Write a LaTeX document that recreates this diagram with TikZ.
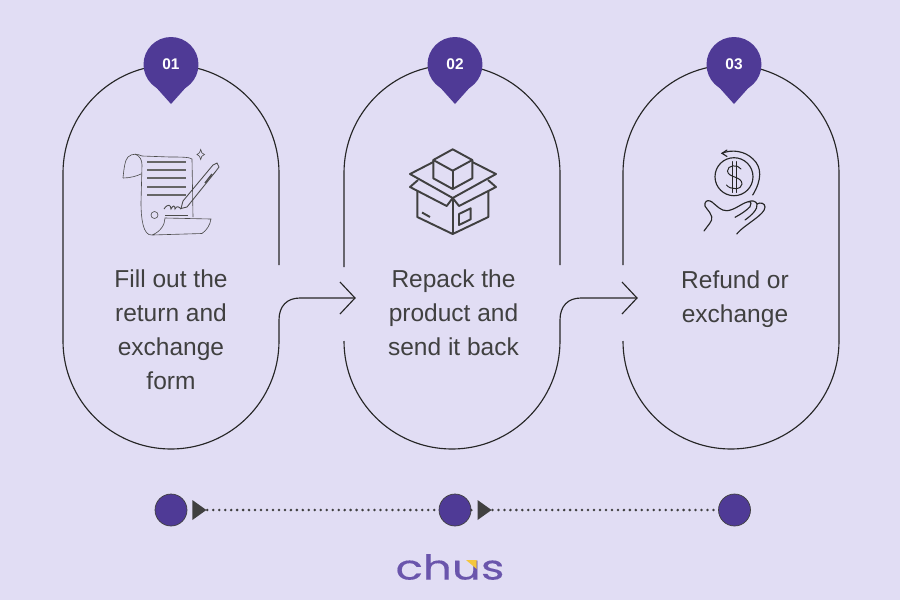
\documentclass[tikz,border=0pt]{standalone}
\usepackage{fontspec}
\usepackage{xcolor}
\setmainfont{Liberation Sans}
\newfontfamily\logofont[FakeBold=0.2]{Poppins}
\usetikzlibrary{shapes.geometric}
\definecolor{bgcol}{HTML}{E1DDF4}
\definecolor{pincol}{HTML}{4F3A96}
\definecolor{inkcol}{HTML}{404040}
\definecolor{logocol}{HTML}{6A55AC}
\definecolor{logotip}{HTML}{F4C63D}
\tikzset{
  outline/.style={draw=black!85,line width=0.65pt},
  pinhead/.style={circle,fill=pincol,minimum size=1.1cm,inner sep=0pt,text=white,font=\bfseries\fontsize{8.8}{10}\selectfont},
  steptext/.style={align=center,text=inkcol,font=\fontsize{13.95}{19.45}\selectfont},
  dotnode/.style={circle,fill=pincol,draw=inkcol,line width=0.4pt,minimum size=0.64cm,inner sep=0pt},
  tipnode/.style={isosceles triangle,isosceles triangle stretches,fill=inkcol,minimum width=0.4cm,minimum height=0.28cm,inner sep=0pt},
  dotline/.style={draw=inkcol,line width=1.6pt,line cap=round,dash pattern=on 0pt off 3.4pt},
  scroll/.style={draw=black!70,line width=0.35pt},
  boxline/.style={draw=inkcol,line width=1.1pt,line join=round},
  handline/.style={draw=black!85,line width=0.65pt,line cap=round}
}
\begin{document}
\begin{tikzpicture}[x=0.02cm,y=-0.02cm]
\useasboundingbox[fill=bgcol] (0,0) rectangle (900,600);
% the three outlines
\foreach \x/\ya/\yb in {63/341/265,344/267/265,623/265/341}
\draw[outline] (\x,\ya) -- (\x,173) .. controls (\x,113.4) and (\x+48.4,65) .. (\x+108,65)
  .. controls (\x+167.6,65) and (\x+216,113.4) .. (\x+216,173) -- (\x+216,\yb);
\foreach \x in {63,344,623}
\draw[outline] (\x,341) .. controls (\x,400.6) and (\x+48.4,449) .. (\x+108,449)
  .. controls (\x+167.6,449) and (\x+216,400.6) .. (\x+216,341);
% arrows between them
\coordinate (tipa) at (355,298);
\coordinate (tipb) at (637,298);
\draw[outline] (279,341) -- (279,320) .. controls (279,306) and (287,298) .. (300,298) -- (tipa);
\draw[outline] (560,341) -- (560,320) .. controls (560,306) and (568,298) .. (581,298) -- (tipb);
\draw[outline] ([shift={(-15,-16)}]tipa) -- (tipa) -- ([shift={(-15,16)}]tipa);
\draw[outline] ([shift={(-15,-16)}]tipb) -- (tipb) -- ([shift={(-15,16)}]tipb);
% pins
\foreach \x/\n in {171/01,455/02,734/03} {
\fill[pincol] (\x-17,85) -- (\x,104) -- (\x+17,85) -- cycle;
\node[pinhead] (pin\n) at (\x,64.5) {\n};
}
% labels
\node[steptext] (texta) at (171,329.5) {Fill out the\\return and\\exchange\\form};
\node[steptext] (textb) at (453.5,312.5) {Repack the\\product and\\send it back};
\node[steptext] (textc) at (735,299) {Refund or\\exchange};
% scroll
\draw[scroll] (123,178) .. controls (124,168) and (125,160) .. (128,157) .. controls (132,153) and (138,154) .. (142,156) -- (170,157) .. controls (180,157) and (190,157) .. (192,159) -- (193,217);
\draw[scroll] (123,178) .. controls (130,178) and (137,176) .. (141,174);
\draw[scroll] (135,154) .. controls (140,156) and (142,160) .. (142,165) -- (141,203) .. controls (141,218) and (143,236) .. (152,235) -- (202,233.5) .. controls (207,230) and (210,225) .. (211,219) -- (165,218) .. controls (165,225) and (160,232) .. (152,235);
\foreach \y in {162,170,178,187,195}
\draw[scroll,line width=0.6pt,black!60] (147,\y) -- (186,\y);
\draw[scroll] (165,215) -- (188,215);
\draw[scroll] (154.5,215) circle (3.5);
\draw[scroll,line width=0.5pt] (164,209) .. controls (168,203) and (171,205) .. (171,209) .. controls (173,205) and (175,205) .. (175,209) .. controls (177,205) and (179,207) .. (181,209);
\draw[scroll,line width=0.5pt] (181,208.5) -- (183,201) -- (213,165) -- (217,163) -- (219,167) -- (216,171) -- (187,207) -- cycle;
\draw[scroll,line width=0.8pt] (205,183) -- (212,174);
\draw[scroll] (200.7,149.5) .. controls (201,152) and (202,154) .. (204.5,154.5) .. controls (202,155) and (201,157) .. (200.7,159.5) .. controls (200.4,157) and (199,155) .. (197,154.5) .. controls (199,154) and (200.4,152) .. (200.7,149.5) -- cycle;
% box
\draw[boxline] (452.7,149.3) -- (472.3,160) -- (452.7,170.7) -- (433.3,160) -- cycle;
\draw[boxline] (433.3,160) -- (433.3,178.3) -- (452.7,189) -- (472.3,178.3) -- (472.3,160);
\draw[boxline] (452.7,170.7) -- (452.7,189);
\draw[boxline] (433.3,162) -- (410,174) -- (452.7,198) -- (496,174) -- (472.3,162);
\draw[boxline] (418,180) -- (410,187) -- (446.7,206) -- (452.7,198) -- (459,206) -- (496,187) -- (488,180);
\draw[boxline] (417.3,191) -- (417.3,217) -- (452.7,234) -- (488.3,217) -- (488.3,191);
\draw[boxline] (452.7,198) -- (452.7,234);
\draw[boxline] (422,212.5) -- (430,217);
\draw[boxline] (459,214) -- (470.7,208.3) -- (470.7,219.3) -- (459,225) -- cycle;
% coin and hand
\draw[handline] (734,176.7) circle (19);
\draw[handline] (752.7,195) .. controls (762,180) and (762,167) .. (753,159) .. controls (745,151) and (732,149) .. (722,153.3);
\draw[handline] (727,150) -- (722,153.3) -- (727,156.5);
\draw[handline,line width=0.55pt] (741,169) .. controls (738,164) and (727,165) .. (727.5,171) .. controls (728,178) and (742,176) .. (742,184) .. controls (742,190) and (730,190) .. (726.5,185);
\draw[handline,line width=0.55pt] (732,161.5) -- (732,192.5);
\draw[handline,line width=0.55pt] (736,161.5) -- (736,192.5);
\draw[handline] (704,231) .. controls (708,225) and (713,221) .. (711.7,216.7) .. controls (710,210) and (703,207) .. (705,203.3) .. controls (706,200) and (709,200) .. (712,202) .. controls (717,206) and (721,211) .. (727,210.7) .. controls (735,210) and (742,203) .. (748.3,201.7) .. controls (752,201) and (751,205) .. (750,206.7) .. controls (746,211) and (741,214) .. (735,217.3);
\draw[handline] (748.3,201.7) .. controls (752,200) and (756,201) .. (757,204) .. controls (758,209) and (752,215) .. (745,220);
\draw[handline] (757,204) .. controls (760,202) and (765,203) .. (765,207) .. controls (765,215) and (745,224) .. (736.7,234);
% timeline
\node[dotnode] (dota) at (171,510) {};
\node[dotnode] (dotb) at (455,510) {};
\node[dotnode] (dotc) at (734.5,510) {};
\node[tipnode] (tria) at (197.5,510) {};
\node[tipnode] (trib) at (482.7,510) {};
\draw[dotline] (tria.apex) -- (dotb.west);
\draw[dotline] (dotb.east) -- (trib.west);
\draw[dotline] (trib.apex) -- (dotc.west);
% logo
\node[xscale=1.32,text=logocol,inner sep=0pt,font=\logofont\fontsize{19.5}{24}\selectfont] (logo) at (450,567) {chus};
\fill[logotip] (466,560) -- (476.7,560) -- (476.7,569) -- cycle;
\end{tikzpicture}
\end{document}
